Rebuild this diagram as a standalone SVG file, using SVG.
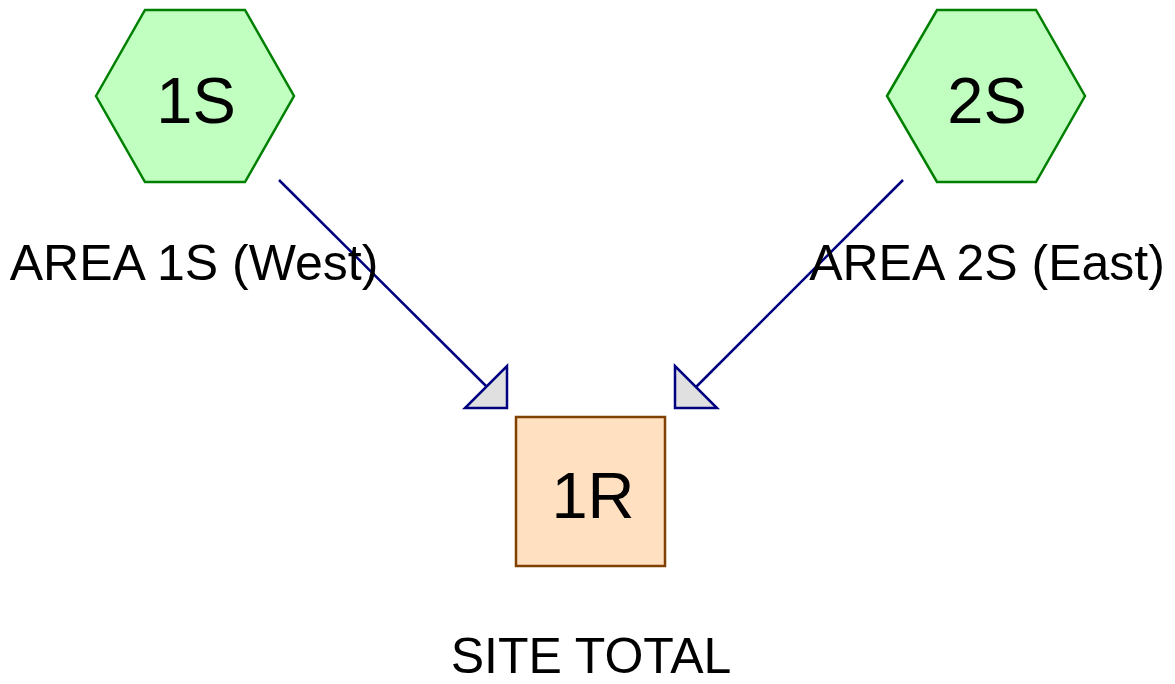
<svg xmlns="http://www.w3.org/2000/svg" width="1175" height="684" viewBox="0 0 1175 684">
<style>
.hex{fill:#c0ffc0;stroke:#008000;stroke-width:2.5}
.box{fill:#ffe0c0;stroke:#804000;stroke-width:2.5}
.id{font-family:"Liberation Sans",Arial,sans-serif;font-size:65px;fill:#000;text-anchor:middle}
.lbl{font-family:"Liberation Sans",Arial,sans-serif;font-size:50px;fill:#000;text-anchor:middle}
.edge{stroke:#000080;stroke-width:2.5;fill:none}
.head{fill:#e0e0e0;stroke:#000080;stroke-width:2.5;stroke-linejoin:miter}
</style>
<rect width="1175" height="684" fill="#fff"/>
<g id="connectors">
<line class="edge" x1="279" y1="180" x2="487" y2="387"/>
<polygon class="head" points="507,366 507,408 465,408"/>
<line class="edge" x1="903" y1="180" x2="696" y2="387"/>
<polygon class="head" points="675,366 675,408 717,408"/>
</g>
<g id="node-1S">
<polygon class="hex" points="96,96 145,10 245,10 294,96 245,182 145,182"/>
<text class="id" x="196" y="123">1S</text>
<text class="lbl" x="194" y="280">AREA 1S (West)</text>
</g>
<g id="node-2S">
<polygon class="hex" points="887,96 937,10 1036,10 1085,96 1036,182 937,182"/>
<text class="id" x="987" y="123">2S</text>
<text class="lbl" x="987" y="280">AREA 2S (East)</text>
</g>
<g id="node-1R">
<rect class="box" x="516" y="417" width="149" height="149"/>
<text class="id" x="593" y="518">1R</text>
<text class="lbl" x="591" y="673">SITE TOTAL</text>
</g>
</svg>
